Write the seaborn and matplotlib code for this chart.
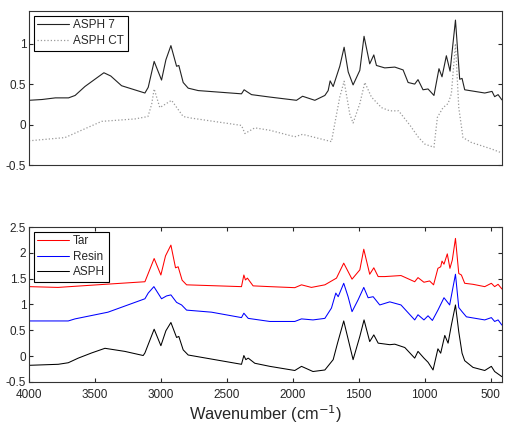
import numpy as np
import pandas as pd
import matplotlib
matplotlib.use('Agg')
import matplotlib.pyplot as plt
import seaborn as sns

# Top panel: ASPH 7 vs ASPH CT
asph7_wn = [4000, 3900, 3800, 3750, 3700, 3650, 3576, 3500, 3432, 3380, 3298, 3200, 3121, 3096,
            3051, 2995, 2962, 2924, 2881, 2864, 2831, 2793, 2717, 2389, 2369, 2351, 2313, 2174,
            1972, 1926, 1833, 1757, 1732, 1717, 1694, 1644, 1611, 1580, 1543, 1492, 1460, 1417,
            1386, 1366, 1303, 1227, 1164, 1126, 1076, 1051, 1013, 975, 930, 892, 869, 836, 808,
            767, 735, 717, 697, 545, 490, 470, 444, 415]
asph7_abs = [0.30, 0.31, 0.33, 0.33, 0.33, 0.36, 0.47, 0.56, 0.64, 0.60, 0.48, 0.43, 0.39, 0.46,
             0.78, 0.55, 0.80, 0.975, 0.72, 0.73, 0.52, 0.45, 0.42, 0.38, 0.43, 0.41, 0.37, 0.34,
             0.30, 0.35, 0.30, 0.36, 0.42, 0.54, 0.47, 0.72, 0.955, 0.65, 0.49, 0.67, 1.09, 0.75,
             0.86, 0.73, 0.70, 0.71, 0.675, 0.52, 0.50, 0.555, 0.43, 0.44, 0.36, 0.69, 0.59, 0.85,
             0.66, 1.29, 0.56, 0.57, 0.43, 0.39, 0.41, 0.345, 0.37, 0.305]

asphct_wn = [4000, 3727, 3449, 3197, 3098, 3070, 3051, 3008, 2919, 2831, 2768, 2389, 2363, 2288,
             2174, 1985, 1926, 1707, 1682, 1644, 1611, 1568, 1543, 1492, 1454, 1404, 1328, 1265,
             1198, 1111, 1051, 1000, 930, 904, 861, 823, 798, 767, 742, 710, 647, 495, 415]
asphct_abs = [-0.20, -0.16, 0.04, 0.07, 0.10, 0.25, 0.44, 0.21, 0.30, 0.10, 0.08, -0.01, -0.11,
              -0.04, -0.07, -0.15, -0.12, -0.21, 0.01, 0.34, 0.535, 0.13, 0.02, 0.26, 0.52, 0.34,
              0.21, 0.17, 0.17, -0.01, -0.15, -0.24, -0.28, 0.09, 0.21, 0.26, 0.38, 1.0, 0.21,
              -0.16, -0.22, -0.30, -0.35]

# Bottom panel: fractions
tar_wn = [4000, 3780, 3424, 3121, 3096, 3051, 3000, 2965, 2924, 2889, 2869, 2839, 2805, 2389,
          2371, 2359, 2344, 2301, 2174, 1985, 1934, 1859, 1757, 1669, 1614, 1551, 1492, 1462,
          1417, 1386, 1353, 1303, 1180, 1076, 1051, 1006, 963, 933, 900, 879, 869, 854, 829,
          809, 791, 767, 742, 722, 697, 634, 545, 495, 470, 444, 415]
tar_abs = [1.345, 1.33, 1.39, 1.44, 1.60, 1.89, 1.57, 1.94, 2.15, 1.71, 1.73, 1.47, 1.38, 1.345,
           1.57, 1.475, 1.51, 1.36, 1.345, 1.325, 1.38, 1.33, 1.38, 1.51, 1.80, 1.49, 1.67, 2.07,
           1.585, 1.71, 1.54, 1.54, 1.56, 1.44, 1.52, 1.43, 1.455, 1.38, 1.70, 1.73, 1.84, 1.78,
           1.98, 1.70, 1.86, 2.28, 1.60, 1.57, 1.41, 1.39, 1.345, 1.41, 1.345, 1.39, 1.30]

resin_wn = [4000, 3702, 3651, 3401, 3121, 3096, 3053, 2995, 2957, 2924, 2881, 2843, 2805, 2616,
            2389, 2371, 2338, 2174, 1985, 1934, 1847, 1757, 1707, 1674, 1656, 1614, 1581, 1551,
            1505, 1462, 1429, 1391, 1341, 1265, 1180, 1076, 1051, 1006, 975, 942, 900, 854, 811,
            767, 742, 717, 684, 545, 495, 470, 444, 415]
resin_abs = [0.68, 0.68, 0.72, 0.85, 1.11, 1.22, 1.345, 1.11, 1.165, 1.185, 1.04, 0.99, 0.89,
             0.85, 0.745, 0.83, 0.73, 0.67, 0.67, 0.72, 0.70, 0.73, 0.93, 1.22, 1.15, 1.41, 1.15,
             0.86, 1.09, 1.33, 1.13, 1.15, 0.99, 1.05, 0.99, 0.70, 0.80, 0.70, 0.78, 0.69, 0.89,
             1.13, 0.99, 1.585, 0.94, 0.86, 0.76, 0.70, 0.745, 0.67, 0.70, 0.60]

asph_wn = [4000, 3778, 3702, 3626, 3525, 3424, 3273, 3134, 3121, 3051, 3000, 2962, 2924, 2881,
           2864, 2831, 2793, 2389, 2371, 2356, 2338, 2288, 2174, 1985, 1934, 1847, 1757, 1694,
           1661, 1614, 1543, 1492, 1460, 1417, 1386, 1353, 1265, 1227, 1151, 1076, 1051, 1006,
           975, 937, 900, 879, 848, 823, 798, 767, 742, 717, 697, 634, 545, 495, 470, 415]
asph_abs = [-0.18, -0.16, -0.13, -0.04, 0.06, 0.15, 0.09, 0.01, 0.06, 0.52, 0.20, 0.49, 0.65,
            0.36, 0.38, 0.12, 0.02, -0.16, 0.01, -0.07, -0.04, -0.14, -0.20, -0.28, -0.20, -0.30,
            -0.27, -0.07, 0.25, 0.68, -0.07, 0.38, 0.70, 0.28, 0.41, 0.25, 0.22, 0.23, 0.165,
            -0.04, 0.09, -0.04, -0.12, -0.27, 0.14, 0.055, 0.40, 0.25, 0.60, 0.99, 0.47, 0.055,
            -0.09, -0.22, -0.28, -0.20, -0.30, -0.40]

xticks = [4000, 3500, 3000, 2500, 2000, 1500, 1000, 500]

sns.set_style('ticks')
plt.rcParams['font.family'] = ['Liberation Sans', 'DejaVu Sans']
plt.rcParams['axes.unicode_minus'] = False
plt.rcParams['axes.linewidth'] = 0.8

fig = plt.figure(figsize=(5.08, 4.30), dpi=100)
ax1 = fig.add_axes([0.057, 0.616, 0.931, 0.358])
ax2 = fig.add_axes([0.057, 0.112, 0.931, 0.360])

# Top panel
sns.lineplot(x=asph7_wn, y=asph7_abs, ax=ax1, color='#222222', lw=0.8,
             label='ASPH 7', estimator=None, sort=False)
sns.lineplot(x=asphct_wn, y=asphct_abs, ax=ax1, color='#999999', lw=0.9,
             linestyle=':', label='ASPH CT', estimator=None, sort=False)
ax1.set_xlim(4000, 415)
ax1.set_ylim(-0.5, 1.4)
ax1.set_yticks([-0.5, 0, 0.5, 1])
ax1.set_yticklabels(['-0.5', '0', '0.5', '1'])
ax1.tick_params(axis='x', bottom=False, labelbottom=False)
ax1.tick_params(axis='y', direction='in', length=3, right=True, labelsize=8.5, pad=2)

# Bottom panel
sns.lineplot(x=tar_wn, y=tar_abs, ax=ax2, color='red', lw=0.75,
             label='Tar', estimator=None, sort=False)
sns.lineplot(x=resin_wn, y=resin_abs, ax=ax2, color='blue', lw=0.75,
             label='Resin', estimator=None, sort=False)
sns.lineplot(x=asph_wn, y=asph_abs, ax=ax2, color='black', lw=0.75,
             label='ASPH', estimator=None, sort=False)
ax2.set_xlim(4000, 415)
ax2.set_ylim(-0.5, 2.5)
ax2.set_xticks(xticks)
ax2.set_xticklabels([str(t) for t in xticks])
yt = [-0.5, 0, 0.5, 1, 1.5, 2, 2.5]
ax2.set_yticks(yt)
ax2.set_yticklabels(['%g' % v for v in yt])
ax2.tick_params(direction='in', length=3, top=True, right=True, labelsize=8.5, pad=2)
ax2.tick_params(axis='x', pad=5)
ax2.set_xlabel('Wavenumber (cm$^{-1}$)', fontsize=11.8, labelpad=2)
ax2.set_ylabel('')
ax1.set_ylabel('')

for ax in (ax1, ax2):
    for s in ax.spines.values():
        s.set_visible(True)
        s.set_color('#333333')
    leg = ax.legend(loc='upper left', fontsize=8.5, fancybox=False, framealpha=1,
                    edgecolor='black', handlelength=2.7, handletextpad=0.35,
                    borderpad=0.3, labelspacing=0.3, borderaxespad=0.4)
    leg.get_frame().set_linewidth(0.8)

fig.savefig('out.png', dpi=100)
